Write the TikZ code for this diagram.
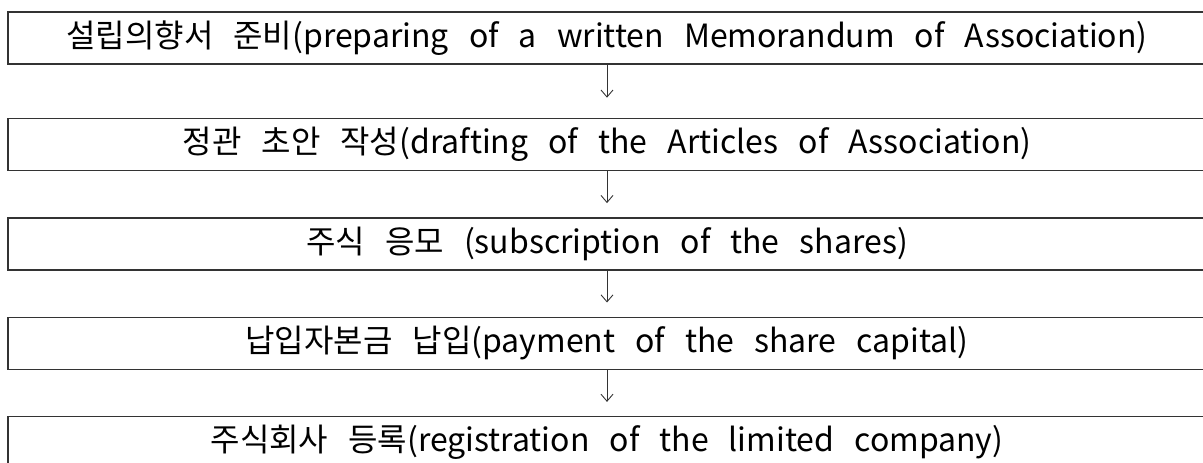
\documentclass[tikz,border=0pt]{standalone}
\usepackage{fontspec}
\setmainfont{Noto Sans CJK KR}[WordSpace=2.8]
\usepackage{tikz}
\usetikzlibrary{positioning,arrows.meta}

\begin{document}
\begin{tikzpicture}[
    x=1pt, y=1pt,
    node distance=46pt,
    stepbox/.style={
        rectangle, draw=black!80, line width=1.4pt,
        minimum width=1198pt, minimum height=52pt,
        inner sep=0pt, font=\fontsize{32}{35}\selectfont, align=center
    },
    arrow/.style={-{Straight Barb[length=7pt,width=12pt]}, line width=0.9pt, draw=black!80, shorten >=14pt}
]
\clip (0,0) rectangle (1203,-463);

% Flow nodes
\node[stepbox] (memo) at (607,-38) {설립의향서 준비(preparing of a written Memorandum of Association)};
\node[stepbox, below=53pt of memo] (articles) {정관 초안 작성(drafting of the Articles of Association)};
\node[stepbox, below=of articles] (subscr) {주식 응모 (subscription of the shares)};
\node[stepbox, below=of subscr] (payment) {납입자본금 납입(payment of the share capital)};
\node[stepbox, below=of payment] (register) {주식회사 등록(registration of the limited company)};

% Flow arrows
\draw[arrow, shorten >=20pt] (memo) -- (articles);
\draw[arrow] (articles) -- (subscr);
\draw[arrow] (subscr) -- (payment);
\draw[arrow] (payment) -- (register);

\end{tikzpicture}
\end{document}
